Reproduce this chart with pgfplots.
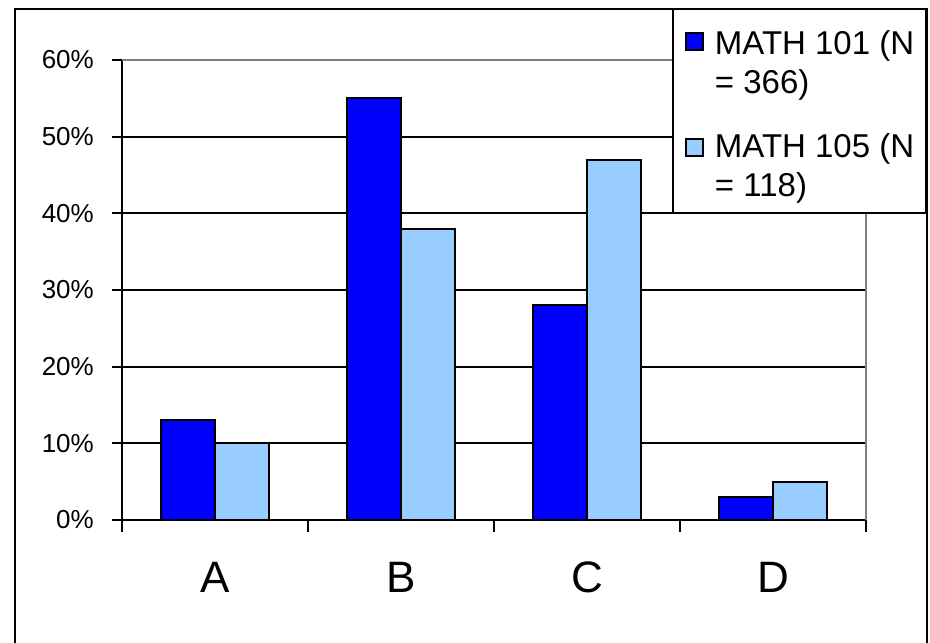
\documentclass[border=0pt]{standalone}
\usepackage{pgfplots}
\pgfplotsset{compat=1.18}
\usepackage{fontspec}
\setmainfont{Liberation Sans}
\definecolor{barA}{RGB}{0,0,255}
\definecolor{barB}{RGB}{153,204,255}
\definecolor{frameGray}{RGB}{128,128,128}
\begin{document}
\begin{tikzpicture}
\useasboundingbox (0pt,0pt) rectangle (930pt,-643pt);
\draw[line width=2pt] (15pt,-9pt) rectangle (927pt,-660pt);
\begin{axis}[
 at={(122pt,-520pt)}, anchor=south west,
 scale only axis, width=744pt, height=460pt,
 xmin=-0.5, xmax=3.5, ymin=0, ymax=60,
 ybar, bar width=54pt,
 clip=false,
 axis x line*=bottom, axis y line*=left,
 axis line style={black, line width=2pt, -},
 xtick={0,1,2,3}, xticklabels={A,B,C,D},
 minor xtick={-0.5,0.5,1.5,2.5,3.5},
 ytick={0,10,...,60},
 yticklabel={\pgfmathprintnumber{\tick}\%},
 /pgf/number format/assume math mode=true,
 tick align=outside,
 major tick length=10pt, minor tick length=12pt,
 major x tick style={draw=none},
 minor x tick style={black, line width=2pt},
 major y tick style={black, line width=2pt},
 ymajorgrids, grid style={black, line width=2pt},
 xticklabel style={font=\fontsize{44}{50}\selectfont, anchor=base, inner sep=0pt, yshift=-62pt},
 yticklabel style={font=\fontsize{26}{30}\selectfont, anchor=east, inner sep=0pt, xshift=-18pt},
 legend cell align=left,
 legend style={at={(0.7392,1.1130)}, anchor=north west, draw=black, line width=2pt, fill=white,
   inner xsep=12pt, inner ysep=15pt, row sep=35.7pt, column sep=11pt,
   nodes={anchor=base west, inner sep=0pt, font=\fontsize{33}{39}\selectfont}},
]
\addplot[fill=barA, draw=black, line width=2pt, bar shift=-27pt,
  legend image code/.code={\draw[fill=barA, draw=black, line width=2pt] (0pt,43pt) rectangle (17pt,60pt);}]
  coordinates {(0,13) (1,55) (2,28) (3,3)};
\addlegendentry{\begin{tabular}[b]{@{}l@{}}\rule{0pt}{30pt}MATH 101 (N\\= 366)\end{tabular}}
\addplot[fill=barB, draw=black, line width=2pt, bar shift=27pt,
  legend image code/.code={\draw[fill=barB, draw=black, line width=2pt] (0pt,41pt) rectangle (17pt,58pt);}]
  coordinates {(0,10) (1,38) (2,47) (3,5)};
\addlegendentry{\begin{tabular}[b]{@{}l@{}}MATH 105 (N\\= 118)\end{tabular}}
\draw[frameGray, line width=2pt] (rel axis cs:0,1) -- (rel axis cs:1,1) -- (rel axis cs:1,0);
\end{axis}
\end{tikzpicture}
\end{document}
